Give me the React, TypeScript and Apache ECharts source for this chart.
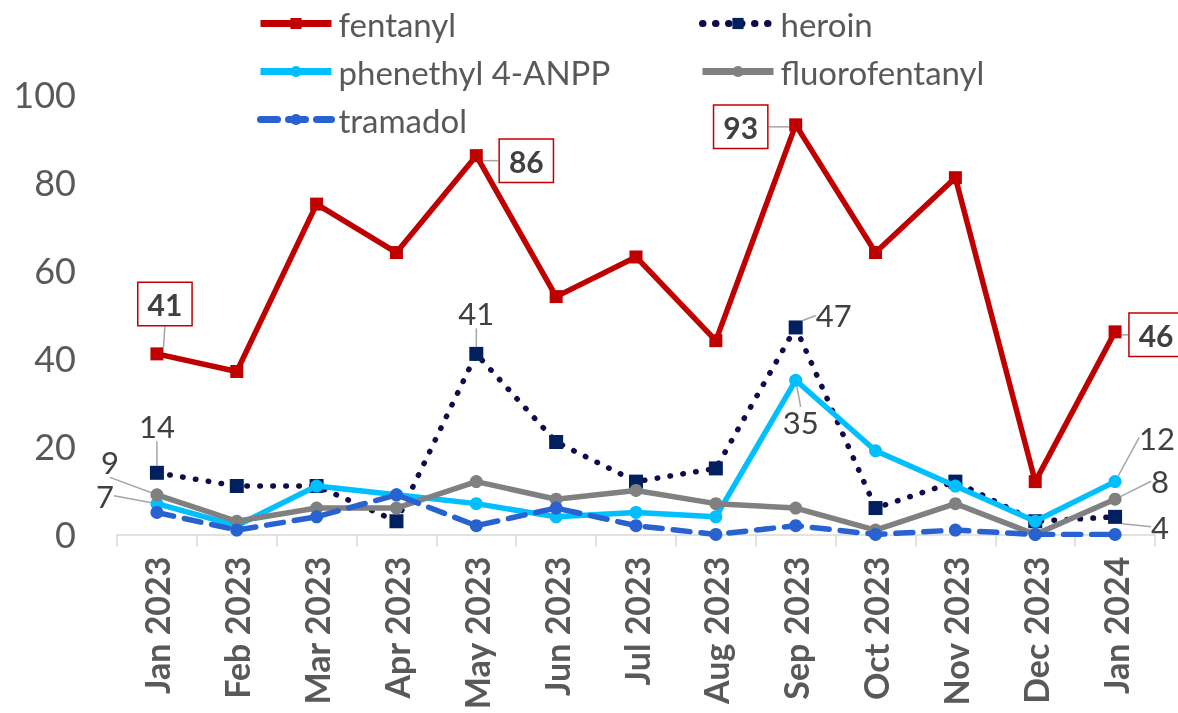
import React, { useEffect, useRef } from "react";
import * as echarts from "echarts";

const categories = [
  "Jan 2023", "Feb 2023", "Mar 2023", "Apr 2023", "May 2023", "Jun 2023", "Jul 2023",
  "Aug 2023", "Sep 2023", "Oct 2023", "Nov 2023", "Dec 2023", "Jan 2024",
];
const fentanyl = [41, 37, 75, 64, 86, 54, 63, 44, 93, 64, 81, 12, 46];
const heroin = [14, 11, 11, 3, 41, 21, 12, 15, 47, 6, 12, 3, 4];
const phenethyl = [7, 2, 11, 9, 7, 4, 5, 4, 35, 19, 11, 3, 12];
const fluorofentanyl = [9, 3, 6, 6, 12, 8, 10, 7, 6, 1, 7, 0, 8];
const tramadol = [5, 1, 4, 9, 2, 6, 2, 0, 2, 0, 1, 0, 0];
const yTicks = { min: 0, max: 100, interval: 20 };

// label offsets (dx, dy) from the point, per series/index
const labelOffsets: Record<string, Record<number, [number, number]>> = {
  fentanyl: { 0: [8, -50], 4: [50, 5], 8: [-55, 2], 12: [41, 3] },
  heroin: { 0: [0, -47], 4: [0, -41], 8: [38, -12], 12: [45, 10] },
  "phenethyl 4-ANPP": { 0: [-52, -8], 8: [5, 42], 12: [42, -44] },
  fluorofentanyl: { 0: [-47, -33], 12: [45, -18] },
  tramadol: {},
};

const FONT = "Lato, 'Open Sans', sans-serif";
const seriesNames = ["fentanyl", "heroin", "phenethyl 4-ANPP", "fluorofentanyl", "tramadol"];

export default function App() {
  const ref = useRef<HTMLDivElement>(null);
  useEffect(() => {
    if (!ref.current) return;
    const chart = echarts.init(ref.current, undefined, { renderer: "svg" });

    const plainLabel = {
      show: true,
      position: "inside",
      fontSize: 31,
      color: "#404040",
      fontFamily: FONT,
    };
    const boxLabel = {
      show: true,
      position: "inside",
      fontSize: 30,
      fontWeight: "bold",
      color: "#404040",
      fontFamily: FONT,
      backgroundColor: "#ffffff",
      borderColor: "#c00000",
      borderWidth: 1.5,
      padding: [7, 9, 5, 9],
    };

    const mk = (name: string, values: number[], boxed: boolean) =>
      values.map((v, i) => {
        const off = labelOffsets[name][i];
        if (!off) return { value: v, label: { show: false } };
        return { value: v, label: boxed ? boxLabel : plainLabel };
      });

    const labelLayout = (params: any) => {
      const name = seriesNames[params.seriesIndex];
      const off = labelOffsets[name][params.dataIndex];
      if (!off) return {};
      return { dx: off[0], dy: off[1] };
    };

    const labelLine = { show: true, lineStyle: { color: "#a6a6a6", width: 1.5 } };
    const legendBase = {
      orient: "vertical",
      top: 2,
      padding: 5,
      itemWidth: 71,
      itemHeight: 14,
      itemGap: 15,
      lineStyle: { width: 7 },
      textStyle: { fontSize: 33, color: "#595959", fontFamily: FONT, padding: [0, 0, 0, 2] },
    };

    const option: any = {
      animation: false,
      textStyle: { fontFamily: FONT },
      grid: { left: 117, right: 23, top: 94, bottom: 174, containLabel: false },
      legend: [
        { ...legendBase, data: ["fentanyl", "phenethyl 4-ANPP", "tramadol"], left: 252 },
        { ...legendBase, data: ["heroin", "fluorofentanyl"], left: 694 },
      ],
      xAxis: {
        type: "category",
        data: categories,
        boundaryGap: true,
        axisLine: { lineStyle: { color: "#d9d9d9", width: 1.5 } },
        axisTick: { show: true, length: 12, lineStyle: { color: "#d9d9d9", width: 1.5 } },
        axisLabel: {
          rotate: 90,
          fontSize: 34,
          fontWeight: "bold",
          color: "#595959",
          fontFamily: FONT,
          margin: 22,
          interval: 0,
        },
      },
      yAxis: {
        type: "value",
        min: yTicks.min,
        max: yTicks.max,
        interval: yTicks.interval,
        axisLine: { show: false },
        axisTick: { show: false },
        splitLine: { show: false },
        axisLabel: { fontSize: 36, color: "#595959", fontFamily: FONT, margin: 41 },
      },
      series: [
        {
          name: "fentanyl",
          type: "line",
          data: mk("fentanyl", fentanyl, true),
          symbol: "rect",
          symbolSize: 13,
          itemStyle: { color: "#c00000" },
          lineStyle: { color: "#c00000", width: 5.5 },
          labelLayout,
          labelLine,
          z: 2,
        },
        {
          name: "heroin",
          type: "line",
          data: mk("heroin", heroin, false),
          symbol: "rect",
          symbolSize: 14,
          itemStyle: { color: "#002060" },
          lineStyle: { color: "#120a4a", width: 5.5, type: [0.5, 12.5], cap: "round" },
          labelLayout,
          labelLine,
          z: 3,
        },
        {
          name: "phenethyl 4-ANPP",
          type: "line",
          data: mk("phenethyl 4-ANPP", phenethyl, false),
          symbol: "circle",
          symbolSize: 13,
          itemStyle: { color: "#00bfff" },
          lineStyle: { color: "#00bfff", width: 5.5 },
          labelLayout,
          labelLine,
          z: 4,
        },
        {
          name: "fluorofentanyl",
          type: "line",
          data: mk("fluorofentanyl", fluorofentanyl, false),
          symbol: "circle",
          symbolSize: 13,
          itemStyle: { color: "#808080" },
          lineStyle: { color: "#808080", width: 5.5 },
          labelLayout,
          labelLine,
          z: 5,
        },
        {
          name: "tramadol",
          type: "line",
          data: mk("tramadol", tramadol, false),
          symbol: "circle",
          symbolSize: 13,
          itemStyle: { color: "#2862d0" },
          lineStyle: { color: "#2862d0", width: 5.5, type: [17, 11], cap: "round" },
          z: 6,
        },
      ],
    };
    chart.setOption(option);
    return () => chart.dispose();
  }, []);

  return <div ref={ref} style={{ position: "fixed", left: 0, top: 0, width: 1178, height: 713 }} />;
}
